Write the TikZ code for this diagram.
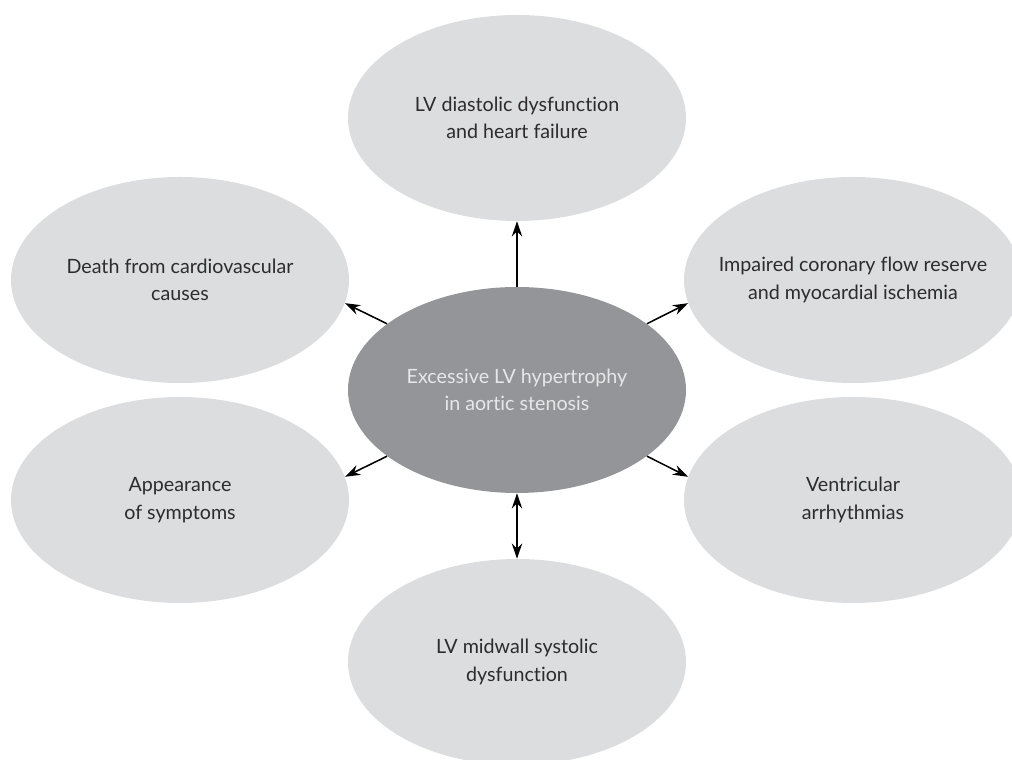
\documentclass[tikz,border=0pt]{standalone}
\usepackage{fontspec}
\setmainfont[Ligatures=NoCommon]{Lato}
\usepackage{xcolor}
\usetikzlibrary{
    shapes,
    arrows.meta,
    positioning
}
\definecolor{bubblegrey}{RGB}{220,221,223}
\definecolor{coregrey}{RGB}{147,149,152}
\definecolor{textgrey}{RGB}{45,43,45}
\definecolor{coretext}{RGB}{230,231,232}

\begin{document}
\begin{tikzpicture}[
    bubble/.style={ellipse, fill=bubblegrey, minimum width=8.45cm, minimum height=5.15cm,
        inner xsep=-1.2cm, inner ysep=0pt, align=center, text=textgrey,
        font=\fontsize{14}{19.6}\selectfont},
    core/.style={bubble, fill=coregrey, text=coretext},
    link/.style={-{Stealth[length=0.38cm, width=0.26cm]}, line width=1.1pt},
    twoway/.style={{Stealth[length=0.38cm, width=0.26cm]}-{Stealth[length=0.38cm, width=0.26cm]}, line width=1.1pt}
]
    \clip (0, 0) rectangle (25.3, 19);
    \node[core] (hyper) at (12.925, 9.25) {Excessive LV hypertrophy\\in aortic stenosis};
    \node[bubble] (diast) at (12.925, 16.05) {LV diastolic dysfunction\\and heart failure};
    \node[bubble] (death) at (4.5, 12) {Death from cardiovascular\\causes};
    \node[bubble] (flow) at (21.325, 12) {Impaired coronary flow reserve\\and myocardial ischemia};
    \node[bubble] (sympt) at (4.5, 6.5) {Appearance\\of symptoms};
    \node[bubble] (arrhy) at (21.325, 6.5) {Ventricular\\arrhythmias};
    \node[bubble] (systol) at (12.925, 2.45) {LV midwall systolic\\dysfunction};
    \draw[link] (hyper.north) -- (diast.south);
    \draw[link] (hyper.153) -- (death.352);
    \draw[link] (hyper.27) -- (flow.188);
    \draw[link] (hyper.207) -- (sympt.8);
    \draw[link] (hyper.333) -- (arrhy.172);
    \draw[twoway] (hyper.south) -- (systol.north);
\end{tikzpicture}
\end{document}
